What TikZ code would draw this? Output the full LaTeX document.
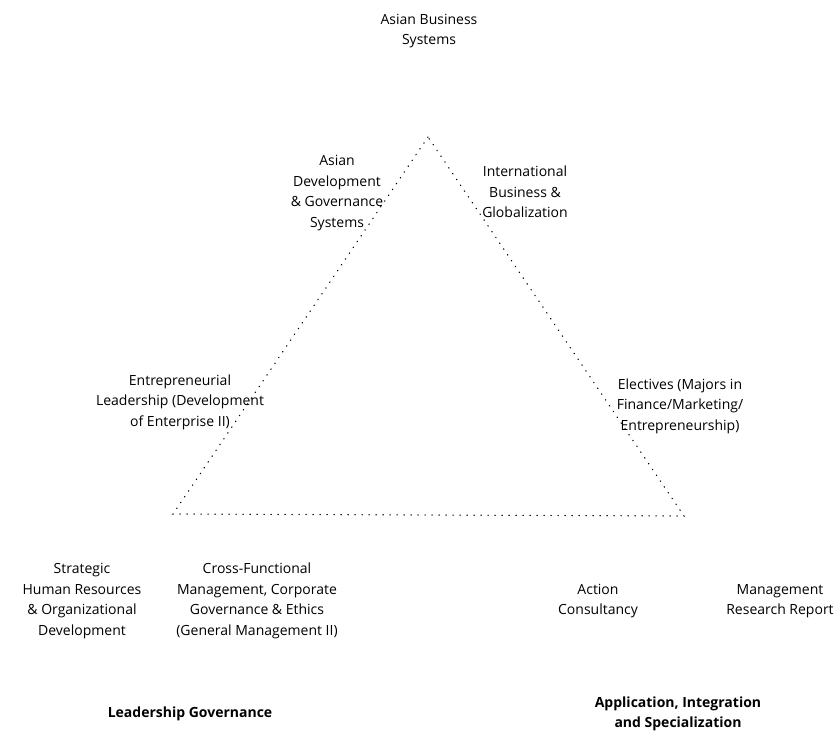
\documentclass[tikz,border=0pt]{standalone}
\usepackage{fontspec}
\setmainfont{Open Sans}
\begin{document}
\begin{tikzpicture}[x=1pt,y=-1pt,
  lbl/.style={align=center,font=\fontsize{14}{20.6}\selectfont,inner sep=0pt},
  bold/.style={lbl,font=\fontsize{14}{20.6}\selectfont\bfseries},
  tri/.style={line width=1.2pt,dash pattern=on 0.5pt off 6.5pt,line cap=round}]
\useasboundingbox (0,0) rectangle (840,733);
\coordinate (A) at (428,137);
\coordinate (L) at (173,514);
\coordinate (R) at (684,516);
\draw[tri] (A) -- (L) -- (R) -- cycle;
\node[lbl] (abs) at (429,31) {Asian Business\\Systems};
\node[lbl] (adg) at (337,193) {Asian\\Development\\\& Governance\\Systems};
\node[lbl] (ibg) at (525,192) {International\\Business \&\\Globalization};
\node[lbl] (el) at (180,402) {Entrepreneurial\\Leadership (Development\\of Enterprise II)};
\node[lbl] (elec) at (680,406) {Electives (Majors in\\Finance/Marketing/\\Entrepreneurship)};
\node[lbl] (shr) at (82,601) {Strategic\\Human Resources\\\& Organizational\\Development};
\node[lbl] (cfm) at (257,601) {Cross-Functional\\Management, Corporate\\Governance \& Ethics\\(General Management II)};
\node[lbl] (ac) at (598,601) {Action\\Consultancy};
\node[lbl] (mrr) at (780,601) {Management\\Research Report};
\node[bold] (lg) at (190,714) {Leadership Governance};
\node[bold] (ais) at (678,714) {Application, Integration\\and Specialization};
\end{tikzpicture}
\end{document}
